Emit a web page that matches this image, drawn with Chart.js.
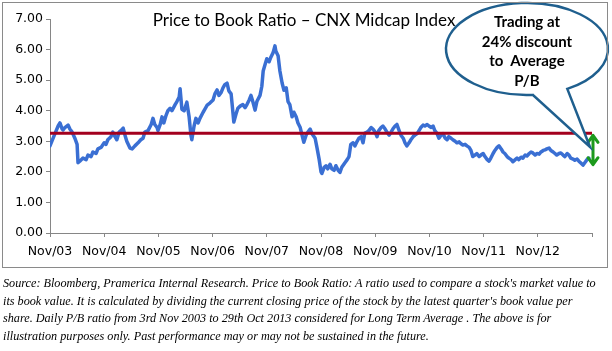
<!DOCTYPE html>
<html>
<head>
<meta charset="utf-8">
<script src="https://cdn.jsdelivr.net/npm/chart.js@4.4.0/dist/chart.umd.min.js"></script>
<style>
  html, body { margin: 0; padding: 0; background: #fff; }
  body { width: 612px; height: 351px; position: relative; overflow: hidden; }
  #wrap { position: absolute; left: 0; top: 0; width: 612px; height: 268px; }
  #frame { position: absolute; left: 2px; top: 2px; width: 604px; height: 264px; border: 1.5px solid #8a8a8a; pointer-events: none; }
  #title { position: absolute; left: 104px; width: 400px; top: 9px; text-align: center; font-family: Lato, "Noto Sans", sans-serif; font-size: 17px; color: #000; white-space: nowrap; }
  #callout { position: absolute; left: 447px; width: 160px; top: 12px; text-align: center; font-family: Lato, "Noto Sans", sans-serif; font-weight: bold; font-size: 15px; line-height: 19.7px; color: #000; white-space: pre; }
  #note { position: absolute; left: 3px; top: 275px; font-family: "Liberation Serif", serif; font-style: italic; font-size: 12.2px; line-height: 17.5px; color: #000; white-space: nowrap; }
</style>
</head>
<body>
<div id="wrap"><canvas id="c" width="612" height="268"></canvas></div>
<div id="frame"></div>
<div id="title">Price to Book Ratio – CNX Midcap Index</div>
<div id="callout">Trading at
24% discount
to  Average
P/B</div>
<div id="note">Source: Bloomberg, Pramerica Internal Research. Price to Book Ratio: A ratio used to compare a stock's market value to<br>its book value. It is calculated by dividing the current closing price of the stock by the latest quarter's book value per<br>share. Daily P/B ratio from 3rd Nov 2003 to 29th Oct 2013 considered for Long Term Average . The above is for<br>illustration purposes only. Past performance may or may not be sustained in the future.</div>
<script>
// Months elapsed since Nov 2003
const months = [
0.0,0.4,1.1,1.8,2.2,2.7,2.9,3.3,4.0,4.4,4.9,5.5,6.0,6.2,6.6,7.3,8.0,8.4,9.1,9.5,
10.2,10.6,11.3,12.0,12.4,12.8,13.5,13.9,14.4,14.8,15.3,15.7,16.2,16.6,17.0,17.7,18.2,18.8,19.5,20.1,
20.6,21.0,21.7,22.4,22.8,23.2,23.7,23.9,24.4,24.8,25.2,25.7,26.1,26.6,27.0,27.7,28.1,28.6,28.8,29.2,
29.7,30.3,30.8,31.2,31.4,31.9,32.3,32.8,33.2,33.9,34.3,34.8,35.4,36.1,36.5,37.0,37.4,37.9,38.3,38.7,
39.2,39.6,40.1,40.3,40.7,41.2,41.6,42.1,42.7,43.2,43.6,44.1,44.5,44.9,45.4,45.8,46.5,46.9,47.2,47.6,
48.0,48.5,48.9,49.4,49.8,50.0,50.5,50.9,51.4,51.8,52.3,52.7,53.1,53.6,54.0,54.5,54.9,55.4,55.8,56.2,
56.7,57.1,57.6,58.0,58.7,59.1,59.6,60.0,60.2,60.7,61.1,61.5,62.0,62.4,62.9,63.3,63.8,64.2,64.6,65.3,
65.8,66.2,66.6,67.1,67.5,68.0,68.4,68.9,69.3,69.7,70.2,70.6,71.1,71.5,72.0,72.4,72.8,73.3,73.7,74.2,
74.6,75.1,75.5,75.9,76.4,76.8,77.3,77.7,78.2,78.6,79.0,79.5,79.9,80.4,80.8,81.3,81.7,82.1,82.6,83.0,
83.5,83.9,84.4,84.8,85.2,85.7,86.1,86.6,87.0,87.5,87.9,88.3,88.8,89.2,89.7,90.1,90.6,91.0,91.4,91.9,
92.3,92.8,93.2,93.6,94.1,94.5,95.0,95.4,95.9,96.3,96.8,97.2,97.6,98.1,98.5,99.0,99.4,99.9,100.3,100.7,
101.2,101.6,102.1,102.5,103.0,103.4,103.8,104.3,104.7,105.2,105.6,106.1,106.5,106.9,107.4,107.8,108.3,108.7,109.2,109.6,
110.0,110.5,110.9,111.4,111.8,112.2,112.7,113.1,113.6,114.0,114.5,114.9,115.3,115.8,116.2,116.7,117.1,117.6,118.0,118.4,
118.9,119.3
];
// Daily P/B ratio (sampled)
const pbRatio = [
2.85,3.0,3.25,3.5,3.6,3.4,3.37,3.45,3.53,3.4,3.3,3.1,2.9,2.3,2.35,2.45,2.4,2.55,2.5,2.65,
2.6,2.75,2.8,2.95,2.9,3.05,3.15,3.3,3.15,3.05,3.3,3.35,3.43,3.2,3.0,2.78,2.75,2.85,2.95,3.05,
3.1,3.3,3.35,3.55,3.75,3.55,3.45,3.35,3.55,3.8,3.6,3.85,4.0,4.08,4.0,4.2,4.3,4.45,4.72,4.05,
4.0,4.28,3.8,3.2,3.05,3.5,3.75,3.6,3.75,3.95,4.05,4.18,4.25,4.35,4.55,4.68,4.5,4.6,4.75,4.85,
4.9,4.65,4.55,4.25,3.63,3.9,4.08,4.15,4.2,4.1,4.2,4.35,4.5,4.3,4.02,4.3,4.5,4.8,5.3,5.5,
5.7,5.6,5.75,5.9,6.12,5.95,5.8,5.3,4.9,4.67,4.75,4.3,4.2,3.8,3.95,3.8,3.6,3.45,3.2,2.97,
3.2,3.3,3.4,3.25,3.1,2.8,2.4,2.0,1.95,2.15,2.2,2.1,2.25,2.1,2.05,2.2,2.05,1.98,2.15,2.3,
2.4,2.5,2.9,2.95,2.85,3.0,3.1,3.15,2.95,3.27,3.3,3.35,3.45,3.4,3.3,3.15,3.35,3.45,3.5,3.4,
3.3,3.2,3.3,3.4,3.5,3.55,3.35,3.2,3.1,2.95,2.85,2.95,3.05,3.15,3.2,3.25,3.35,3.45,3.53,3.5,
3.55,3.5,3.45,3.5,3.35,3.25,3.1,3.2,3.25,3.1,3.05,3.15,3.1,3.05,3.0,2.95,2.98,2.92,2.88,2.9,
2.85,2.8,2.7,2.5,2.55,2.6,2.5,2.55,2.6,2.5,2.4,2.35,2.45,2.6,2.7,2.8,2.85,2.75,2.65,2.6,
2.5,2.45,2.4,2.33,2.4,2.45,2.4,2.48,2.45,2.55,2.52,2.6,2.65,2.62,2.55,2.6,2.58,2.65,2.7,2.72,
2.75,2.78,2.7,2.65,2.6,2.55,2.6,2.62,2.55,2.5,2.6,2.55,2.45,2.42,2.38,2.42,2.35,2.28,2.22,2.3,
2.4,2.45
];
const longTermAverage = 3.26;
const averageSpan = [0, 120];
const arrowLow = 2.2;
const tickLabels = ['Nov/03','Nov/04','Nov/05','Nov/06','Nov/07','Nov/08','Nov/09','Nov/10','Nov/11','Nov/12'];
const yTicks = [0,1,2,3,4,5,6,7];

const pbPoints = months.map((m, i) => ({ x: m, y: pbRatio[i] }));
const avgPoints = averageSpan.map(m => ({ x: m, y: longTermAverage }));

const decor = {
  id: 'decor',
  afterDatasetsDraw(chart) {
    const ctx = chart.ctx;
    const xs = chart.scales.x, ys = chart.scales.y;
    // green double arrow
    const ax = xs.getPixelForValue(averageSpan[1]) + 1;
    const top = ys.getPixelForValue(longTermAverage) + 1;
    const bot = ys.getPixelForValue(arrowLow);
    ctx.save();
    ctx.strokeStyle = '#1d9a1d';
    ctx.lineWidth = 3;
    ctx.lineCap = 'round';
    ctx.lineJoin = 'round';
    ctx.beginPath();
    ctx.moveTo(ax, top + 2); ctx.lineTo(ax, bot - 2);
    ctx.moveTo(ax - 5, top + 8); ctx.lineTo(ax, top + 1); ctx.lineTo(ax + 5, top + 8);
    ctx.moveTo(ax - 5, bot - 8); ctx.lineTo(ax, bot - 1); ctx.lineTo(ax + 5, bot - 8);
    ctx.stroke();
    // callout bubble
    const cx = 527, cy = 49, rx = 81, ry = 46;
    ctx.beginPath();
    ctx.ellipse(cx, cy, rx, ry, 0, 1.5, 1.05, false);
    ctx.lineTo(590, 147);
    ctx.closePath();
    ctx.fillStyle = '#ffffff';
    ctx.fill();
    ctx.strokeStyle = '#1f5f8e';
    ctx.lineWidth = 2.5;
    ctx.lineJoin = 'miter';
    ctx.stroke();
    ctx.restore();
  }
};

new Chart(document.getElementById('c'), {
  type: 'line',
  data: {
    datasets: [
      { label: 'Long Term Average', data: avgPoints, borderColor: '#a3001e', borderWidth: 3, pointRadius: 0, tension: 0 },
      { label: 'P/B', data: pbPoints, borderColor: '#3a6fd3', borderWidth: 3.5, pointRadius: 0, tension: 0, borderJoinStyle: 'round', borderCapStyle: 'round' }
    ]
  },
  options: {
    responsive: false,
    animation: false,
    events: [],
    layout: { padding: { top: 19, right: 20, left: 0, bottom: 0 } },
    plugins: { legend: { display: false }, tooltip: { enabled: false }, title: { display: false } },
    scales: {
      x: {
        type: 'linear', min: 0, max: 120,
        afterBuildTicks(s) { s.ticks = tickLabels.map((t, i) => ({ value: i * 12 })).concat([{ value: 120 }]); },
        afterFit(s) { s.height = 35; },
        border: { color: '#868686', width: 1 },
        grid: { drawOnChartArea: false, tickLength: 4, color: '#868686' },
        ticks: {
          autoSkip: false, maxRotation: 0, padding: 7, color: '#000',
          font: { family: 'DejaVu Sans', size: 12.5 },
          callback(v) { const i = Math.round(v / 12); return i < tickLabels.length ? tickLabels[i] : ''; }
        }
      },
      y: {
        min: 0, max: 7,
        afterBuildTicks(s) { s.ticks = yTicks.map(v => ({ value: v })); },
        afterFit(s) { s.width = 50; },
        border: { color: '#868686', width: 1 },
        grid: { drawOnChartArea: false, tickLength: 4, color: '#868686' },
        ticks: {
          padding: 3, color: '#000',
          font: { family: 'DejaVu Sans', size: 12.5 },
          callback(v) { return v.toFixed(2); }
        }
      }
    }
  },
  plugins: [decor]
});
</script>
</body>
</html>
